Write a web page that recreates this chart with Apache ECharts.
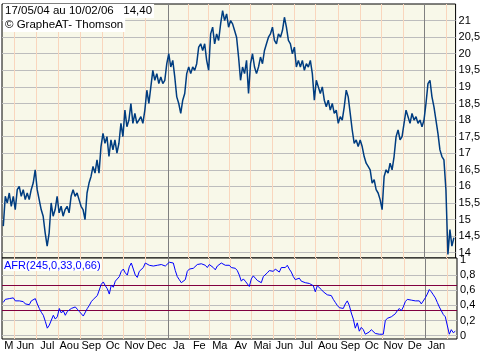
<!DOCTYPE html>
<html>
<head>
<meta charset="utf-8">
<script src="https://cdn.jsdelivr.net/npm/echarts@6/dist/echarts.min.js"></script>
<style>
  html, body { margin: 0; padding: 0; background: #fff; }
  #main { width: 483px; height: 351px; }
</style>
</head>
<body>
<div id="main"></div>
<script>
// one sample every 2 trading days, from 17/05/04 to 10/02/06
const sampleStep = 2

// trading-day index where each month starts (x axis is in trading days)
const monthStarts = [0, 11, 33, 55, 77, 99, 120, 142, 165, 186, 206, 227, 248, 270, 292, 313, 336, 358, 379, 401, 422, 444]
const monthNames = ['M', 'Jun', 'Jul', 'Aou', 'Sep', 'Oc', 'Nov', 'Dec', 'Ja', 'Fe', 'Ma', 'Av', 'Mai', 'Jun', 'Jul', 'Aou', 'Sep', 'Oc', 'Nov', 'De', 'Jan']
const yearStarts = [165, 422]

const priceTicks = [14, 14.5, 15, 15.5, 16, 16.5, 17, 17.5, 18, 18.5, 19, 19.5, 20, 20.5, 21]
const afrTicks = [0, 0.2, 0.4, 0.6, 0.8, 1]
const afrLevels = [0.33, 0.66]

const priceValues = [
  14.8, 15.7, 15.5, 15.8, 15.4, 15.7, 15.3, 15.9, 16.0, 15.7,
  15.9, 15.6, 15.8, 15.6, 15.9, 16.1, 16.5, 15.9, 15.6, 15.3,
  15.1, 14.6, 14.2, 14.6, 15.5, 15.1, 15.3, 15.7, 15.2, 15.4,
  15.1, 15.3, 15.4, 15.2, 15.7, 15.9, 15.7, 15.8, 15.6, 15.4,
  15.3, 15.0, 15.8, 16.1, 16.3, 16.6, 16.4, 16.8, 16.4, 17.2,
  17.6, 17.3, 17.5, 16.9, 17.4, 17.1, 17.4, 17.0, 17.3, 17.9,
  17.5, 18.3, 17.8, 18.0, 18.5, 17.9, 18.2, 17.9, 18.0, 18.1,
  17.9, 18.3, 18.9, 18.5, 19.0, 19.5, 19.2, 19.4, 19.1, 19.3,
  19.1, 19.2, 19.7, 20.0, 19.6, 19.8, 19.3, 18.7, 18.5, 18.2,
  18.6, 18.8, 19.4, 19.6, 19.4, 19.6, 19.5, 19.7, 20.2, 20.3,
  20.1, 20.3, 19.8, 19.5, 20.6, 20.8, 20.3, 20.6, 20.4, 20.9,
  21.3, 21.0, 21.2, 20.8, 21.0, 20.9, 20.7, 20.5, 19.9, 19.2,
  19.6, 19.4, 19.8, 18.8, 19.7, 20.0, 19.6, 19.4, 19.6, 19.9,
  19.7, 20.1, 20.3, 20.5, 20.6, 20.8, 20.4, 20.3, 20.6, 20.5,
  20.7, 21.1, 20.8, 20.4, 20.3, 20.0, 20.2, 19.6, 19.8, 19.6,
  19.8, 19.5, 19.7, 19.6, 19.8, 19.4, 18.6, 19.2, 19.0, 18.8,
  19.0, 18.6, 18.4, 18.6, 18.3, 18.5, 18.2, 18.3, 17.9, 18.1,
  18.0, 18.4, 18.9, 18.7, 18.2, 17.7, 17.3, 17.4, 17.2, 17.4,
  17.2, 16.9, 16.7, 16.6, 16.5, 16.1, 16.2, 15.9, 15.8, 15.6,
  15.3, 16.3, 16.5, 16.4, 16.7, 16.5, 16.9, 17.5, 17.7, 17.4,
  17.5, 17.9, 18.3, 18.1, 17.9, 18.2, 18.0, 18.1, 17.9, 18.0,
  17.8, 18.0, 18.5, 19.1, 19.2, 18.7, 18.4, 18.0, 17.6, 17.1,
  16.9, 16.8, 15.9, 13.95, 14.7, 14.2, 14.45
]

const afrValues = [
  0.44, 0.48, 0.46, 0.49, 0.47, 0.50, 0.46, 0.48, 0.46, 0.44,
  0.45, 0.42, 0.43, 0.41, 0.46, 0.45, 0.49, 0.42, 0.36, 0.31,
  0.27, 0.19, 0.10, 0.14, 0.16, 0.27, 0.22, 0.25, 0.36, 0.30,
  0.33, 0.27, 0.32, 0.30, 0.36, 0.34, 0.38, 0.35, 0.32, 0.30,
  0.26, 0.28, 0.36, 0.40, 0.45, 0.48, 0.46, 0.53, 0.55, 0.68,
  0.71, 0.66, 0.62, 0.55, 0.67, 0.64, 0.72, 0.74, 0.78, 0.85,
  0.88, 0.83, 0.80, 0.91, 0.96, 0.88, 0.80, 0.77, 0.85, 0.86,
  0.90, 0.96, 0.95, 0.93, 0.95, 0.92, 0.94, 0.93, 0.92, 0.94,
  0.93, 0.92, 0.94, 0.97, 0.95, 0.96, 0.86, 0.78, 0.74, 0.70,
  0.72, 0.74, 0.85, 0.88, 0.90, 0.89, 0.91, 0.94, 0.96, 0.95,
  0.96, 0.93, 0.90, 0.94, 0.95, 0.90, 0.87, 0.92, 0.94, 0.96,
  0.95, 0.93, 0.95, 0.93, 0.90, 0.88, 0.89, 0.86, 0.80, 0.72,
  0.75, 0.72, 0.70, 0.65, 0.75, 0.79, 0.76, 0.73, 0.74, 0.70,
  0.78, 0.80, 0.83, 0.86, 0.88, 0.85, 0.88, 0.86, 0.84, 0.90,
  0.91, 0.90, 0.93, 0.88, 0.84, 0.78, 0.74, 0.73, 0.76, 0.72,
  0.74, 0.70, 0.72, 0.69, 0.70, 0.66, 0.58, 0.66, 0.64, 0.61,
  0.58, 0.56, 0.54, 0.52, 0.53, 0.48, 0.44, 0.40, 0.37, 0.35,
  0.36, 0.42, 0.46, 0.40, 0.30, 0.22, 0.10, 0.17, 0.06, 0.11,
  0.08, 0.02, 0.01, 0.05, 0.08, 0.06, 0.03, 0.04, 0.02, 0.01,
  0.02, 0.20, 0.23, 0.22, 0.25, 0.27, 0.29, 0.33, 0.36, 0.33,
  0.38, 0.45, 0.48, 0.46, 0.47, 0.45, 0.46, 0.44, 0.46, 0.42,
  0.43, 0.50, 0.55, 0.61, 0.58, 0.54, 0.50, 0.44, 0.38, 0.33,
  0.28, 0.25, 0.24, 0.02, 0.08, 0.04, 0.06
]

const font = 'Liberation Sans, Arial, sans-serif'
const peach = '#f9d6bd'
const gridGray = '#bdbdbd'

const monthCenters = monthNames.map((n, k) => (monthStarts[k] + monthStarts[k + 1]) / 2)
const priceData = priceValues.map((v, k) => [k * sampleStep, v])
const afrData = afrValues.map((v, k) => [k * sampleStep, v])
const fmtComma = v => String(v).replace('.', ',')

const xBase = {
  type: 'value',
  min: -1.3,
  max: 453.7,
  axisLine: { show: false },
  axisLabel: { show: false }
}

const myChart = echarts.init(document.getElementById('main'))
myChart.setOption({
  animation: false,
  backgroundColor: '#fff',
  title: [
    {
      text: '17/05/04 au 10/02/06   14,40',
      left: 3, top: 4, padding: [1, 2],
      backgroundColor: '#fff',
      textStyle: { fontFamily: font, fontSize: 11.5, fontWeight: 'normal', color: '#000' }
    },
    {
      text: '© GrapheAT- Thomson',
      left: 3, top: 18, padding: [1, 2],
      backgroundColor: '#fff',
      textStyle: { fontFamily: font, fontSize: 11.5, fontWeight: 'normal', color: '#000' }
    },
    {
      text: 'AFR(245,0,33,0,66)',
      left: 3, top: 260, padding: [0, 1],
      backgroundColor: '#fff',
      textStyle: { fontFamily: font, fontSize: 11, fontWeight: 'normal', color: '#0000ff' }
    }
  ],
  grid: [
    { left: 2, top: 4, width: 455, height: 254, show: true, backgroundColor: '#f8f8e9', borderColor: '#000', borderWidth: 1, z: 0 },
    { left: 2, top: 258, width: 455, height: 82, show: true, backgroundColor: '#f8f8e9', borderColor: '#000', borderWidth: 1, z: 0 }
  ],
  xAxis: [
    Object.assign({}, xBase, {
      gridIndex: 0,
      axisTick: { show: false, customValues: monthStarts.slice(1) },
      splitLine: { show: true, lineStyle: { color: peach, width: 1 } }
    }),
    Object.assign({}, xBase, {
      gridIndex: 0,
      position: 'top',
      axisTick: { show: false, customValues: yearStarts },
      splitLine: { show: true, lineStyle: { color: '#808080', width: 1 } }
    }),
    Object.assign({}, xBase, {
      gridIndex: 1,
      axisTick: { show: false, customValues: monthStarts.slice(1) },
      axisLabel: {
        show: true,
        customValues: monthCenters,
        margin: 1,
        fontFamily: font,
        fontSize: 11,
        color: '#000',
        formatter: v => monthNames[monthCenters.indexOf(v)]
      },
      splitLine: { show: true, lineStyle: { color: peach, width: 1 } }
    }),
    Object.assign({}, xBase, {
      gridIndex: 1,
      position: 'top',
      axisTick: { show: false, customValues: yearStarts },
      splitLine: { show: true, lineStyle: { color: '#808080', width: 1 } }
    })
  ],
  yAxis: [
    {
      type: 'value',
      gridIndex: 0,
      position: 'right',
      min: 13.84,
      max: 21.5,
      axisLine: { show: false },
      axisTick: { show: false, customValues: priceTicks },
      axisLabel: { customValues: priceTicks, margin: 3, fontFamily: font, fontSize: 11, color: '#000', formatter: fmtComma },
      splitLine: { show: true, lineStyle: { color: gridGray, width: 1 } }
    },
    {
      type: 'value',
      gridIndex: 1,
      position: 'right',
      min: -0.043,
      max: 1.026,
      axisLine: { show: false },
      axisTick: { show: false, customValues: [0, 0.2, 0.4, 0.6, 0.8] },
      axisLabel: { customValues: afrTicks, margin: 3, fontFamily: font, fontSize: 11, color: '#000', formatter: fmtComma },
      splitLine: { show: true, lineStyle: { color: gridGray, width: 1 } }
    }
  ],
  series: [
    {
      name: 'levels',
      type: 'line',
      xAxisIndex: 2,
      yAxisIndex: 1,
      data: [],
      silent: true,
      markLine: {
        silent: true,
        symbol: 'none',
        label: { show: false },
        lineStyle: { color: '#800040', width: 1, type: 'solid' },
        data: afrLevels.map(v => ({ yAxis: v }))
      }
    },
    {
      name: 'cours',
      type: 'line',
      xAxisIndex: 0,
      yAxisIndex: 0,
      data: priceData,
      showSymbol: false,
      z: 5,
      lineStyle: { color: '#003d80', width: 1.5 }
    },
    {
      name: 'AFR',
      type: 'line',
      xAxisIndex: 2,
      yAxisIndex: 1,
      data: afrData,
      showSymbol: false,
      z: 5,
      lineStyle: { color: '#0000ff', width: 1 }
    }
  ]
})
</script>
</body>
</html>
